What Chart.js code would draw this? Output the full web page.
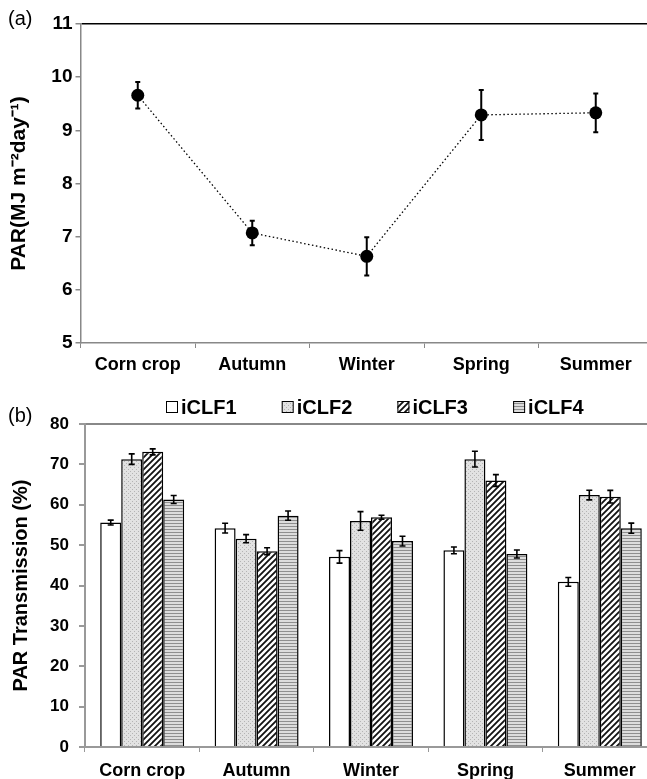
<!DOCTYPE html>
<html><head><meta charset="utf-8">
<script src="https://cdn.jsdelivr.net/npm/chart.js@4"></script>
<style>
html,body{margin:0;padding:0;overflow:hidden;background:#fff;width:647px;height:779px}
#wrap{position:relative;width:647px;height:779px;overflow:hidden;background:#fff}
canvas{position:absolute;left:0}
.lab{position:absolute;font:20px "Liberation Sans",Arial,sans-serif;color:#000;line-height:1}
</style></head><body>
<div id="wrap">
<canvas id="c1" width="700" height="390" style="top:0"></canvas>
<canvas id="c2" width="700" height="394" style="top:385px"></canvas>
<div class="lab" style="left:8px;top:8px">(a)</div>
<div class="lab" style="left:8px;top:405px">(b)</div>
</div>
<script>
const categories = ['Corn crop','Autumn','Winter','Spring','Summer'];
const parValues = [9.66, 7.07, 6.63, 9.29, 9.33];
const parErrors = [0.25, 0.23, 0.36, 0.47, 0.365];
const parMin = 5, parMax = 11, parStep = 1;
const seriesNames = ['iCLF1','iCLF2','iCLF3','iCLF4'];
const iclf1 = [55.6, 54.2, 47.1, 48.7, 40.9];
const iclf1Err = [0.6, 1.2, 1.55, 0.85, 1.1];
const iclf2 = [71.3, 51.6, 56.0, 71.3, 62.4];
const iclf2Err = [1.3, 1.0, 2.3, 1.95, 1.2];
const iclf3 = [73.1, 48.5, 56.9, 66.0, 62.0];
const iclf3Err = [0.75, 0.85, 0.5, 1.45, 1.55];
const iclf4 = [61.3, 57.3, 51.0, 47.8, 54.2];
const iclf4Err = [1.0, 1.15, 1.2, 1.0, 1.25];
const transMin = 0, transMax = 80, transStep = 10;

Chart.defaults.font.family = '"Liberation Sans", Arial, sans-serif';
Chart.defaults.color = '#000';

function makePattern(kind){
  const c = document.createElement('canvas');
  const x = c.getContext('2d');
  if (kind === 'white') { c.width = c.height = 2; x.fillStyle = '#fff'; x.fillRect(0,0,2,2); }
  if (kind === 'dots') {
    c.width = c.height = 4; x.fillStyle = '#e2e2e2'; x.fillRect(0,0,4,4);
    x.fillStyle = '#b4b4b4'; x.fillRect(0,0,1,1); x.fillRect(2,2,1,1);
  }
  if (kind === 'diag') {
    c.width = c.height = 6; x.fillStyle = '#fff'; x.fillRect(0,0,6,6);
    x.strokeStyle = '#111'; x.lineWidth = 1.8; x.beginPath();
    x.moveTo(0,6); x.lineTo(6,0);
    x.moveTo(-1,1); x.lineTo(1,-1);
    x.moveTo(5,7); x.lineTo(7,5);
    x.stroke();
  }
  if (kind === 'hstripe') {
    c.width = 2; c.height = 3; x.fillStyle = '#dcdcdc'; x.fillRect(0,0,2,3);
    x.fillStyle = '#8e8e8e'; x.fillRect(0,0,2,1);
  }
  return x.createPattern(c, 'repeat');
}
const fills = [makePattern('white'), makePattern('dots'), makePattern('diag'), makePattern('hstripe')];

const errorBarPlugin = {
  id: 'errbars',
  draw(chart, opts) {
    const ctx = chart.ctx, y = chart.scales.y;
    chart.data.datasets.forEach((ds, i) => {
      const errs = ds.errors; if (!errs) return;
      const meta = chart.getDatasetMeta(i);
      meta.data.forEach((el, j) => {
        const v = ds.data[j], e = errs[j];
        const x = el.x, yt = y.getPixelForValue(v + e), yb = y.getPixelForValue(v - e);
        ctx.save(); ctx.strokeStyle = '#000'; ctx.lineWidth = opts.width; ctx.beginPath();
        ctx.moveTo(x, yt); ctx.lineTo(x, yb);
        ctx.moveTo(x - opts.cap, yt); ctx.lineTo(x + opts.cap, yt);
        ctx.moveTo(x - opts.cap, yb); ctx.lineTo(x + opts.cap, yb);
        ctx.stroke(); ctx.restore();
      });
    });
  },
  beforeDatasetsDraw(chart, args, opts) { if (opts.under) this.draw(chart, opts); },
  afterDatasetsDraw(chart, args, opts) { if (!opts.under) this.draw(chart, opts); }
};

const legendPlugin = {
  id: 'customLegend',
  afterDraw(chart, args, opts) {
    if (!opts.show) return;
    const ctx = chart.ctx;
    const start = chart.chartArea.left + opts.offset;
    chart.data.datasets.forEach((ds, i) => {
      const bx = start + i * opts.step;
      ctx.save();
      ctx.fillStyle = ds.backgroundColor;
      ctx.fillRect(bx, opts.y - 6, 12, 12);
      ctx.strokeStyle = '#000'; ctx.lineWidth = 1;
      ctx.strokeRect(bx + 0.5, opts.y - 5.5, 11, 11);
      ctx.fillStyle = '#000';
      ctx.font = 'bold 20px "Liberation Sans", Arial, sans-serif';
      ctx.textBaseline = 'middle'; ctx.textAlign = 'left';
      ctx.fillText(ds.label, bx + 15, opts.y + 1);
      ctx.restore();
    });
  }
};

new Chart(document.getElementById('c1'), {
  type: 'line',
  data: { labels: categories, datasets: [{
    data: parValues, errors: parErrors,
    borderColor: '#000', borderWidth: 1.3, borderDash: [1.5, 2.5],
    pointRadius: 6.5, pointBackgroundColor: '#000', pointBorderColor: '#000', pointBorderWidth: 0,
    tension: 0
  }]},
  options: {
    responsive: false, animation: false, devicePixelRatio: 1,
    layout: { padding: { top: 24, right: 47, left: 0, bottom: 0 } },
    plugins: { legend: { display: false }, tooltip: { enabled: false }, errbars: { width: 2, cap: 2.5, under: true }, customLegend: { show: false } },
    scales: {
      x: {
        offset: true,
        grid: { offset: true, drawOnChartArea: false, color: '#888', tickLength: 5, lineWidth: 1 },
        border: { color: '#888', width: 1.5 },
        ticks: { font: { size: 18, weight: 'bold' }, color: '#000', padding: 6 },
        afterFit(s) { s.height = 47; }
      },
      y: {
        min: parMin, max: parMax,
        ticks: { stepSize: parStep, font: { size: 19, weight: 'bold' }, color: '#000', padding: 3 },
        grid: { color: c => (c.tick && c.tick.value === parMax) ? '#000' : 'rgba(0,0,0,0)', tickColor: '#888', tickLength: 5, lineWidth: 1.5 },
        border: { color: '#888', width: 1.5 },
        title: { display: true, text: 'PAR(MJ m⁻²day⁻¹)', font: { size: 21, weight: 'bold' }, color: '#000', padding: { top: 7, bottom: 0 } },
        afterFit(s) { s.width = 80.5; }
      }
    }
  },
  plugins: [errorBarPlugin, legendPlugin]
});

const barSeries = [iclf1, iclf2, iclf3, iclf4];
const barErrs = [iclf1Err, iclf2Err, iclf3Err, iclf4Err];
new Chart(document.getElementById('c2'), {
  type: 'bar',
  data: { labels: categories, datasets: seriesNames.map((n, i) => ({
    label: n, data: barSeries[i], errors: barErrs[i],
    backgroundColor: fills[i], borderColor: '#000', borderWidth: 1.5
  }))},
  options: {
    responsive: false, animation: false, devicePixelRatio: 1,
    datasets: { bar: { categoryPercentage: 0.734, barPercentage: 1 } },
    layout: { padding: { top: 39, right: 43, left: 0, bottom: 0 } },
    plugins: { legend: { display: false }, tooltip: { enabled: false }, errbars: { width: 1.6, cap: 3, under: false }, customLegend: { show: true, offset: 81, step: 115.7, y: 22 } },
    scales: {
      x: {
        grid: { offset: true, drawOnChartArea: false, color: '#999', tickLength: 5, lineWidth: 1 },
        border: { color: '#999', width: 2 },
        ticks: { font: { size: 18, weight: 'bold' }, color: '#000', padding: 8 },
        afterFit(s) { s.height = 32; }
      },
      y: {
        min: transMin, max: transMax,
        ticks: { stepSize: transStep, font: { size: 17, weight: 'bold' }, color: '#000', padding: 10 },
        grid: { color: c => (c.tick && c.tick.value === transMax) ? '#888' : 'rgba(0,0,0,0)', tickColor: '#999', tickLength: 6, lineWidth: 2 },
        border: { color: '#999', width: 2 },
        title: { display: true, text: 'PAR Transmission (%)', font: { size: 20, weight: 'bold' }, color: '#000', padding: { top: 9, bottom: 0 } },
        afterFit(s) { s.width = 85; }
      }
    }
  },
  plugins: [errorBarPlugin, legendPlugin]
});
</script>
</body></html>
